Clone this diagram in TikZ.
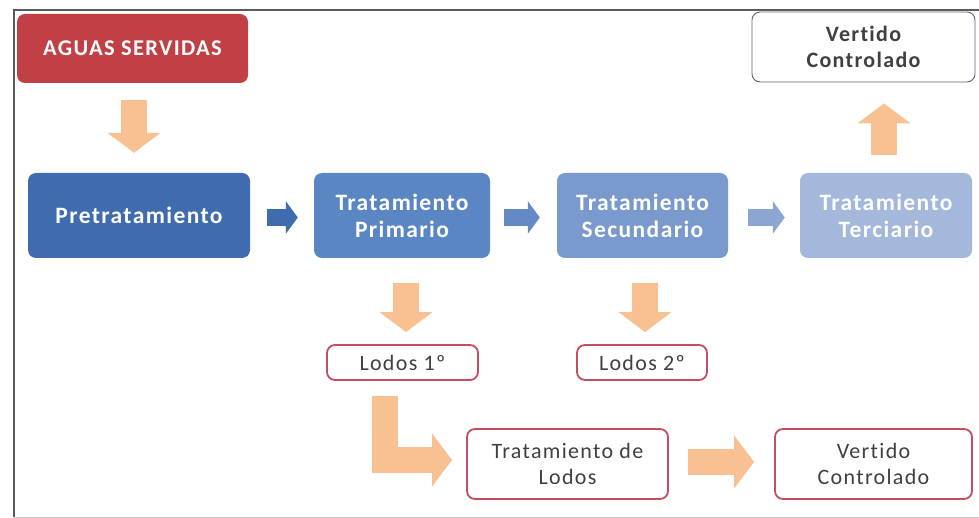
\documentclass[tikz,border=0pt]{standalone}
\usepackage{fontspec}
\setmainfont{Carlito}[LetterSpace=6,Ligatures=NoCommon]
\usetikzlibrary{arrows.meta,calc}
\definecolor{aguasred}{RGB}{192,64,70}
\definecolor{blueA}{RGB}{62,108,175}
\definecolor{blueB}{RGB}{91,134,196}
\definecolor{blueC}{RGB}{122,153,204}
\definecolor{blueD}{RGB}{163,184,218}
\definecolor{arrA}{RGB}{62,108,175}
\definecolor{arrB}{RGB}{100,137,197}
\definecolor{arrC}{RGB}{140,165,210}
\definecolor{orarrow}{RGB}{249,192,145}
\definecolor{lodred}{RGB}{196,78,92}
\definecolor{txtgray}{RGB}{64,64,64}
\definecolor{vtopline}{RGB}{90,100,120}
\definecolor{framegray}{RGB}{90,90,90}
\begin{document}
\begin{tikzpicture}[x=1pt,y=-1pt,
  box/.style={rounded corners=8pt, inner sep=0pt, align=center,
    font=\fontsize{22}{26}\selectfont},
  bluebox/.style={box, text=white, font=\bfseries\fontsize{23.5}{27}\selectfont,
    minimum height=85pt},
  redbox/.style={box, draw=lodred, line width=1.8pt, fill=white, text=txtgray},
  barrow/.style={draw=orarrow, line width=26pt, line join=miter,
    -{Triangle[width=52pt,length=20pt]}},
  sarrow/.style={line width=17pt, -{Triangle[width=32pt,length=12pt]}},
]
\useasboundingbox (0,0) rectangle (979,518);
% frame
\draw[framegray, line width=1.2pt] (979,10) -- (14,10) -- (14,517);
\draw[black!20, line width=1pt] (14,517) -- (979,517);

% top row
\node[box, fill=aguasred, text=white, font=\bfseries\fontsize{22.5}{26}\selectfont,
  minimum width=231pt, minimum height=69pt] (aguas) at (132.5,48.5) {AGUAS SERVIDAS};
\node[box, draw=vtopline, line width=0.9pt, fill=white, text=txtgray,
  font=\bfseries\fontsize{22}{26}\selectfont,
  minimum width=223pt, minimum height=70pt] (vtop) at (863.5,47) {Vertido\\Controlado};

% treatment row
\node[bluebox, fill=blueA, minimum width=222pt] (pre) at (139,215.5) {Pretratamiento};
\node[bluebox, fill=blueB, minimum width=176pt] (prim) at (402,215.5) {Tratamiento\\Primario};
\node[bluebox, fill=blueC, minimum width=171pt] (sec) at (642.5,215.5) {Tratamiento\\Secundario};
\node[bluebox, fill=blueD, minimum width=172pt] (ter) at (886,215.5) {Tratamiento\\Terciario};

% sludge
\node[redbox, minimum width=151pt, minimum height=35pt] (l1) at (402.5,362.5) {Lodos 1º};
\node[redbox, minimum width=130pt, minimum height=35pt] (l2) at (642,362.5) {Lodos 2º};
\node[redbox, minimum width=201pt, minimum height=70pt] (tl) at (567.5,464) {Tratamiento de\\Lodos};
\node[redbox, minimum width=197pt, minimum height=70pt] (vbot) at (873.5,464) {Vertido\\Controlado};

% orange block arrows
\draw[barrow] ($(aguas.south)+(1.5,17)$) -- ($(pre.north)+(-5,-20)$);
\draw[barrow] ($(ter.north)+(-2,-18)$) -- ($(vtop.south)+(20.5,21)$);
\draw[barrow] ($(prim.south)+(4,25)$) -- ($(l1.north)+(3.5,-12)$);
\draw[barrow] ($(sec.south)+(2.5,25)$) -- ($(l2.north)+(3,-12)$);
\draw[barrow] ($(l1.south)+(-17.5,15)$) |- ($(tl.west)+(-14,-4)$);
\draw[barrow] ($(tl.east)+(19,-2)$) -- ($(vbot.west)+(-20,-2)$);

% blue block arrows
\draw[sarrow, draw=arrA] ($(pre.east)+(17,2)$) -- ($(prim.west)+(-16,2)$);
\draw[sarrow, draw=arrB] ($(prim.east)+(14,2)$) -- ($(sec.west)+(-17,2)$);
\draw[sarrow, draw=arrC] ($(sec.east)+(20,2)$) -- ($(ter.west)+(-15,2)$);
\end{tikzpicture}
\end{document}
